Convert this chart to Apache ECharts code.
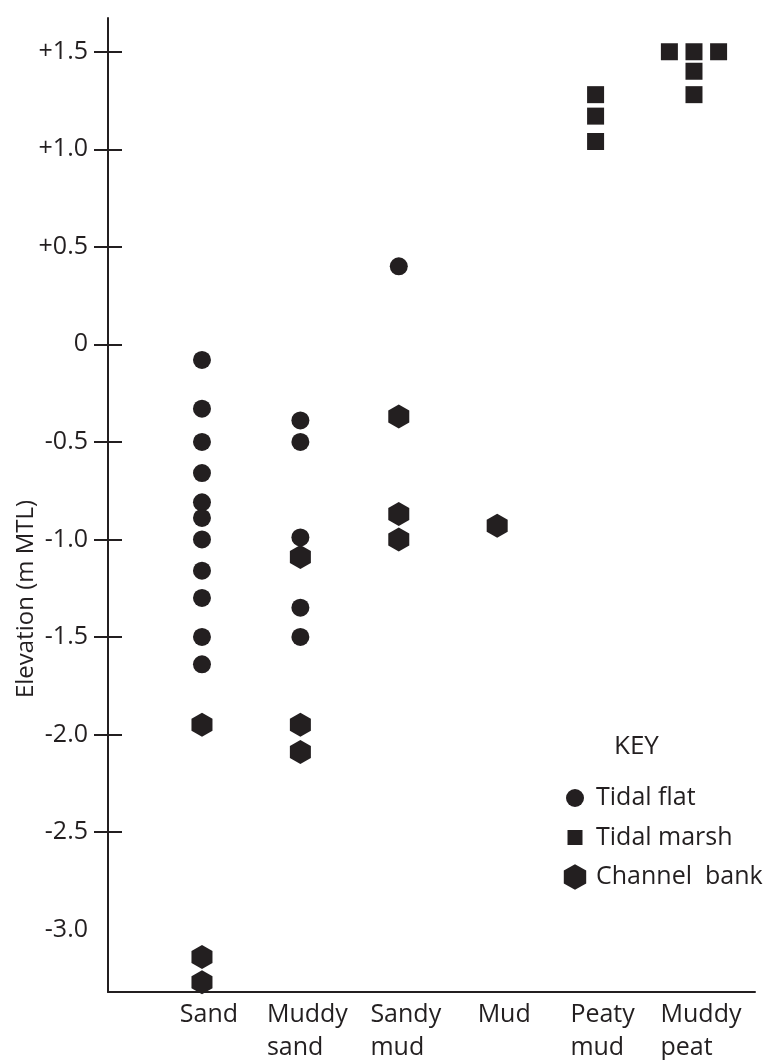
<!DOCTYPE html>
<html>
<head>
<meta charset="utf-8">
<title>Elevation by sediment type</title>
<script src="https://cdn.jsdelivr.net/npm/echarts@6/dist/echarts.min.js"></script>
<style>
  html, body { margin: 0; padding: 0; background: #fff; }
  #chart { width: 768px; height: 1060px; }
</style>
</head>
<body>
<div id="chart"></div>
<script>
// sediment types along the x axis (position = index + 1)
const categories = ['Sand', 'Muddy sand', 'Sandy mud', 'Mud', 'Peaty mud', 'Muddy peat'];

// elevations (m MTL) per category, one array per environment
const tidalFlat = [
  [-0.08, -0.33, -0.5, -0.66, -0.81, -0.89, -1.0, -1.16, -1.3, -1.5, -1.64],
  [-0.39, -0.5, -0.99, -1.35, -1.5],
  [0.4],
  [],
  [],
  []
];
const tidalMarsh = [
  [], [], [], [],
  [1.28, 1.17, 1.04],
  [1.5, 1.5, 1.5, 1.4, 1.28]
];
const channelBank = [
  [-1.95, -3.14, -3.27],
  [-1.09, -1.95, -2.09],
  [-0.37, -0.87, -1.0],
  [-0.93],
  [],
  []
];

const yTicks = [1.5, 1.0, 0.5, 0, -0.5, -1.0, -1.5, -2.0, -2.5, -3.0];
const yTickMarks = [1.5, 1.0, 0.5, 0, -0.5, -1.0, -1.5, -2.0, -2.5];

const ink = '#231f20';
const font = 'Open Sans';
const hexagon = 'path://M0,-1L0.866,-0.5L0.866,0.5L0,1L-0.866,0.5L-0.866,-0.5Z';
// legend icons: the leading moves fix a 26x26 box so the shapes keep their own size
const keyCircle = 'path://M-13,-13M13,13M0,-9A9,9,0,1,1,0,9A9,9,0,1,1,0,-9Z';
const keySquare = 'path://M-13,-13M13,13M-7.5,-7.5L7.5,-7.5L7.5,7.5L-7.5,7.5Z';
const keyHexagon = 'path://M-13,-13M13,13M0,-12.8L11.2,-6.4L11.2,6.4L0,12.8L-11.2,6.4L-11.2,-6.4Z';

// repeated values inside one category are spread side by side
function toPoints(groups) {
  const pts = [];
  groups.forEach((vals, i) => {
    const seen = {};
    vals.forEach(v => { seen[v] = (seen[v] || 0) + 1; });
    const used = {};
    vals.forEach(v => {
      const n = seen[v];
      const k = used[v] || 0;
      used[v] = k + 1;
      pts.push([i + 1 + (k - (n - 1) / 2) * 0.25, v]);
    });
  });
  return pts;
}

const chart = echarts.init(document.getElementById('chart'));

const yBase = {
  type: 'value',
  min: -3.32,
  max: 1.673,
  position: 'left',
  splitLine: { show: false }
};

chart.setOption({
  animation: false,
  textStyle: { fontFamily: font, color: ink },
  title: {
    text: 'KEY',
    left: 614,
    top: 734,
    padding: 0,
    textStyle: { fontFamily: font, fontSize: 26, fontWeight: 'normal', color: ink }
  },
  legend: {
    orient: 'vertical',
    left: 562,
    top: 785,
    padding: 0,
    itemWidth: 26,
    itemHeight: 26,
    itemGap: 13.5,
    textStyle: { fontFamily: font, fontSize: 25, color: ink, padding: [0, 0, 0, 3] },
    data: [
      { name: 'Tidal flat', icon: keyCircle },
      { name: 'Tidal marsh', icon: keySquare },
      { name: 'Channel  bank', icon: keyHexagon }
    ]
  },
  grid: { left: 108, right: 13, top: 18, bottom: 68, containLabel: false, outerBoundsMode: 'none' },
  xAxis: {
    type: 'value',
    min: 0.045,
    max: 6.62,
    splitLine: { show: false },
    axisLine: { onZero: false, lineStyle: { color: ink, width: 2 } },
    axisTick: { show: false },
    axisLabel: {
      customValues: [1, 2, 3, 4, 5, 6],
      margin: 6,
      padding: [0, 0, 0, 14],
      formatter: v => categories[Math.round(v) - 1].split(' ').map(w => '{a|' + w + '}').join('\n'),
      rich: {
        a: { align: 'left', fontFamily: font, fontSize: 25, lineHeight: 33, color: ink }
      }
    }
  },
  yAxis: [
    Object.assign({}, yBase, {
      name: 'Elevation (m MTL)',
      nameLocation: 'middle',
      nameGap: 70,
      nameRotate: 90,
      nameMoveOverlap: false,
      nameTextStyle: { fontFamily: font, fontSize: 24, color: ink, padding: [0, 188, 0, 0] },
      axisLine: { show: true, onZero: false, lineStyle: { color: ink, width: 2 } },
      axisTick: { show: true, customValues: yTickMarks, length: 14, lineStyle: { color: ink, width: 2 } },
      axisLabel: {
        customValues: yTicks,
        margin: 20,
        fontFamily: font,
        fontSize: 25,
        color: ink,
        formatter: v => v > 0 ? '+' + v.toFixed(1) : (v === 0 ? '0' : v.toFixed(1))
      }
    }),
    Object.assign({}, yBase, {
      axisLine: { show: false },
      axisLabel: { show: false },
      axisTick: { show: true, inside: true, customValues: yTickMarks, length: 14, lineStyle: { color: ink, width: 2 } }
    })
  ],
  series: [
    {
      name: 'Tidal flat',
      type: 'scatter',
      symbol: 'circle',
      symbolSize: 18,
      itemStyle: { color: ink, opacity: 1 },
      data: toPoints(tidalFlat)
    },
    {
      name: 'Tidal marsh',
      type: 'scatter',
      symbol: 'rect',
      symbolSize: 17,
      itemStyle: { color: ink, opacity: 1 },
      data: toPoints(tidalMarsh)
    },
    {
      name: 'Channel  bank',
      type: 'scatter',
      symbol: hexagon,
      symbolSize: [21, 24],
      itemStyle: { color: ink, opacity: 1 },
      data: toPoints(channelBank)
    }
  ]
});
</script>
</body>
</html>
